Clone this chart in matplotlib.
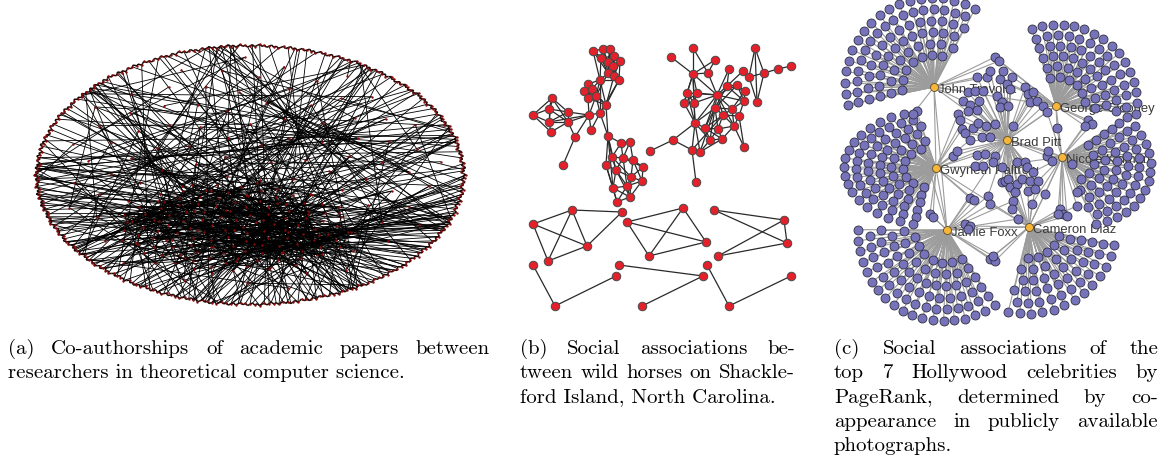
import numpy as np
import matplotlib.pyplot as plt
from matplotlib.collections import LineCollection

# ---------------- (a) co-authorship graph ----------------
ell_center = (250, 176)
ell_axes = (216, 131)
n_rim = 560                      # authors pushed to the outer ring
core_center = (235, 228)         # dense collaboration core, lower middle
core_axes = (118, 46)
n_core = 120
n_mid = 110

# ---------------- (b) horse associations ----------------
horse_xy = [
    # upper clique
    (593, 52), (603, 50), (610, 50), (601, 59), (614, 57), (620, 62),
    (608, 63), (613, 67), (608, 74), (614, 77), (619, 81), (600, 81),
    # middle group
    (588, 85), (584, 92), (592, 90), (588, 99), (596, 97), (606, 106),
    (600, 114), (589, 116), (591, 131), (575, 138), (563, 166),
    # diamond
    (552, 99), (549, 110), (533, 116), (549, 123), (568, 113), (568, 123), (551, 133),
    # lower group
    (608, 137), (621, 144), (630, 143), (612, 158), (623, 159), (633, 161),
    (606, 166), (616, 171), (643, 168), (631, 178), (642, 182), (627, 187),
    (613, 189), (630, 198), (617, 203),
    # right component
    (693, 49), (671, 58), (715, 61), (755, 49), (693, 75), (708, 74),
    (729, 70), (743, 72), (749, 78), (764, 74), (778, 70), (791, 67),
    (757, 103), (727, 87), (737, 86), (745, 92), (717, 96), (687, 94),
    (697, 94), (684, 104), (694, 104), (744, 102), (715, 109), (732, 110),
    (723, 116), (739, 117), (695, 124), (705, 129), (718, 130), (734, 127),
    (710, 141), (722, 140), (744, 148), (673, 141), (692, 151), (700, 153),
    (650, 152), (696, 183),
    # small components
    (533, 225), (572, 211), (622, 213), (587, 247), (548, 262),
    (627, 223), (683, 209), (706, 243), (649, 257),
    (714, 211), (784, 221), (787, 244), (718, 257),
    (533, 266), (555, 307), (616, 277),
    (619, 266), (703, 277), (642, 307),
    (707, 266), (729, 307), (791, 277),
]
horse_edges = [
    (0, 1), (0, 3), (0, 8), (0, 11), (1, 2), (1, 3), (1, 6), (1, 8), (2, 4), (2, 6),
    (2, 7), (2, 8), (3, 6), (3, 8), (3, 11), (4, 5), (4, 6), (4, 7), (4, 9), (5, 7),
    (5, 9), (5, 10), (6, 7), (6, 8), (6, 9), (7, 8), (7, 9), (7, 10), (8, 9), (8, 11),
    (9, 10), (10, 11), (3, 4), (1, 4), (0, 6),
    (11, 12), (11, 14), (11, 16), (10, 17), (9, 17), (8, 16), (10, 18), (11, 17), (11, 18),
    (12, 13), (12, 14), (12, 16), (13, 14), (13, 15), (14, 15), (14, 16), (15, 16),
    (15, 19), (16, 17), (16, 19), (17, 18), (14, 17), (15, 17), (18, 19), (16, 18),
    (13, 16), (12, 15), (19, 27), (19, 28), (19, 26), (19, 20), (19, 21), (21, 28),
    (21, 22), (17, 30), (18, 30), (20, 18),
    (23, 24), (23, 25), (23, 27), (23, 28), (23, 26), (24, 25), (24, 26), (24, 27),
    (24, 28), (25, 26), (25, 29), (26, 27), (26, 28), (26, 29), (27, 28), (28, 29),
    (30, 31), (30, 33), (30, 36), (30, 37), (31, 32), (31, 33), (31, 34), (32, 34),
    (32, 35), (33, 34), (33, 36), (33, 37), (33, 39), (34, 35), (34, 37), (34, 38),
    (35, 38), (35, 39), (36, 37), (36, 42), (36, 44), (37, 39), (37, 41), (37, 42),
    (37, 43), (38, 39), (38, 40), (39, 40), (39, 41), (39, 43), (40, 41), (40, 43),
    (41, 42), (41, 43), (41, 44), (42, 43), (42, 44), (43, 44), (34, 41), (35, 40),
    (30, 42),
    (46, 49), (45, 49), (45, 50), (47, 49), (47, 50), (49, 50), (49, 61), (49, 62),
    (49, 63), (49, 64), (49, 65), (49, 71), (50, 61), (61, 58), (61, 59), (61, 67),
    (61, 68), (61, 69), (61, 63), (61, 62), (61, 65), (61, 72), (61, 71), (51, 58),
    (51, 61), (52, 58), (52, 53), (53, 54), (48, 54), (48, 57), (48, 53), (54, 57),
    (54, 55), (55, 56), (53, 57), (58, 59), (58, 60), (59, 60), (58, 66), (59, 66),
    (60, 66), (58, 67), (59, 67), (60, 68), (66, 68), (66, 70), (62, 63), (62, 64),
    (63, 65), (64, 65), (62, 65), (63, 64), (67, 68), (67, 69), (67, 71), (67, 72),
    (67, 73), (67, 75), (68, 69), (68, 70), (68, 74), (69, 70), (69, 73), (69, 74),
    (69, 72), (70, 74), (70, 77), (71, 72), (71, 75), (71, 79), (71, 80), (72, 73),
    (72, 75), (72, 76), (73, 74), (73, 75), (73, 76), (74, 76), (74, 77), (75, 76),
    (75, 80), (76, 80), (71, 78), (78, 81), (78, 79), (79, 80), (79, 82), (64, 71),
    (62, 71), (65, 71), (61, 74), (61, 66), (67, 80), (69, 79),
    (83, 84), (84, 85), (83, 86), (83, 87), (84, 87), (84, 86), (87, 86), (86, 85),
    (88, 89), (88, 90), (88, 91), (89, 91), (89, 90), (91, 90),
    (92, 93), (92, 94), (93, 94), (93, 95), (95, 94),
    (96, 97), (97, 98), (99, 100), (100, 101), (102, 103), (103, 104),
]

# ---------------- (c) celebrity co-appearance ----------------
stars = ["John Travolta", "George Clooney", "Brad Pitt", "Nicole Kidman",
         "Gwyneth Paltrow", "Jamie Foxx", "Cameron Diaz"]
star_xy = [(934, 88), (1056, 107), (1007, 141), (1062, 158),
           (936, 169), (947, 231), (1029, 228)]
star_links = [(0, 2), (0, 4), (0, 1), (1, 2), (2, 3), (2, 4), (2, 6), (2, 5),
              (4, 5), (5, 6), (3, 6), (1, 3), (4, 6), (0, 5)]

# people photographed with a single star: a half-moon of them beside that star
fan_star = [0, 1, 3, 4, 5, 6]
fan_dir = [128, 52, -15, 180, 242, 303]      # degrees, pointing away from the star
fan_half = [68, 60, 58, 80, 65, 48]          # half opening angle
fan_reach = [90, 82, 90, 92, 92, 86]         # extent along fan_dir
fan_width = [88, 80, 68, 58, 88, 88]         # extent across it
fan_counts = [[7, 9, 12, 14, 17, 19],
              [6, 8, 10, 12, 13, 16],
              [5, 7, 9, 11, 13, 15],
              [7, 9, 12, 14, 17, 19],
              [7, 9, 12, 14, 16, 19],
              [5, 6, 8, 10, 11, 13]]

# people near the middle, with the stars they appear with
crowd_xy = [
    (995, 58), (999, 62), (977, 78), (987, 78), (990, 72), (1000, 80), (1003, 72),
    (1012, 78), (968, 93), (975, 92), (983, 92), (963, 102), (970, 106), (979, 102),
    (977, 111), (968, 112), (958, 115), (960, 121), (962, 130), (965, 134), (973, 129),
    (978, 124), (986, 127), (982, 138), (970, 141), (990, 138), (997, 97), (1002, 103),
    (1000, 108), (1008, 107), (1007, 85), (1010, 90), (1025, 88), (1028, 95), (1033, 93),
    (1030, 103), (1037, 102), (1043, 107), (1047, 113), (1013, 127), (995, 125),
    (1088, 121), (1092, 125), (1085, 127), (1057, 129),
    (953, 157), (957, 152), (977, 156), (985, 155), (995, 157), (975, 167), (983, 167),
    (993, 163), (1002, 168), (1002, 183), (1005, 182), (1008, 180), (1010, 188),
    (1017, 185), (1015, 193), (1022, 180), (1017, 163), (1025, 163), (1027, 168),
    (1033, 173), (1030, 182), (1038, 182), (1028, 192), (1035, 190), (1045, 195),
    (1032, 205), (1013, 202), (1012, 210), (1018, 220), (970, 199), (974, 201),
    (988, 197), (990, 205), (965, 225), (970, 227), (968, 230), (1060, 210),
    (1063, 215), (1067, 217), (1058, 215), (1047, 157), (1052, 162), (1048, 152),
    (1072, 165), (1077, 193), (1077, 207), (913, 115), (930, 215), (933, 218),
    (990, 260), (995, 262), (993, 257),
]
crowd_stars = [
    (0, 1), (0, 1), (0, 2), (0, 2), (2,), (2, 1), (2,), (2, 1), (0, 2), (2,), (2,),
    (2, 0), (2,), (2,), (2,), (2, 4), (2, 4), (2,), (2, 4), (2,), (2,), (2,), (2,),
    (2,), (2, 4), (2,), (2,), (2,), (2,), (2,), (2, 1), (2,), (2, 1), (2, 1), (2, 1),
    (2,), (2, 1), (2, 1), (2, 1, 3), (2,), (2,),
    (1, 3), (1, 3), (1, 3), (1, 3),
    (4, 2), (4, 2), (2, 4), (2,), (2,), (2, 4), (2,), (2,), (2,), (2, 6), (2, 6),
    (2,), (2, 6), (2,), (2, 6), (2,), (2,), (2, 3), (2,), (2, 3), (2,), (2, 3),
    (2, 6), (2, 6), (3, 6), (6, 3), (2, 6, 5), (6,), (6, 5), (4, 5), (4, 5),
    (2, 5), (5, 6), (5,), (5, 6), (5,), (3, 6), (3, 6), (3, 6), (3, 6), (3, 2),
    (3,), (3, 2), (3,), (3,), (3, 6), (0, 5), (4, 5), (4, 5),
    (5, 6), (5, 6), (5, 6),
]

captions = [
    (8, 490, ["(a) Co-authorships of academic papers between",
              "researchers in theoretical computer science."]),
    (520, 795, ["(b) Social associations be-",
                "tween wild horses on Shackle-",
                "ford Island, North Carolina."]),
    (834, 1158, ["(c) Social associations of the",
                 "top 7 Hollywood celebrities by",
                 "PageRank, determined by co-",
                 "appearance in publicly available",
                 "photographs."]),
]

W, H = 1161, 456
fig = plt.figure(figsize=(W / 100, H / 100), dpi=100)
ax = fig.add_axes([0, 0, 1, 1])
ax.set_xlim(0, W)
ax.set_ylim(H, 0)
ax.axis("off")


def px_size(d):
    # marker area in points^2 for a dot of d pixels
    return (0.72 * d) ** 2


# ---- (a) ----
phi = (np.sqrt(5) - 1) / 2
golden_angle = np.pi * (3 - np.sqrt(5))
cx, cy = ell_center
ea, eb = ell_axes

k = np.arange(n_rim)
t = 2 * np.pi * k / n_rim
shrink = 1 - 0.025 * ((k * phi) % 1)
rim = np.c_[cx + ea * shrink * np.cos(t), cy + eb * shrink * np.sin(t)]
half = n_rim // 2

k = np.arange(n_core)
r = np.sqrt((k + 0.5) / n_core)
core = np.c_[core_center[0] + core_axes[0] * r * np.cos(k * golden_angle),
             core_center[1] + core_axes[1] * r * np.sin(k * golden_angle)]

k = np.arange(n_mid)
r = 0.9 * np.sqrt((k + 0.5) / n_mid)
mid = np.c_[cx + ea * r * np.cos(k * golden_angle + 0.7),
            cy + eb * r * np.sin(k * golden_angle + 0.7)]

segs = []
for i in range(n_core):
    # lower rim, mostly left and right of the core
    segs.append([core[i], rim[(i * 193 + 20) % half]])
    if i % 2 == 0:
        segs.append([core[i], rim[(i * 251 + 17) % n_rim]])
    segs.append([core[i], core[(i * 7 + 3) % n_core]])
for i in range(n_mid):
    segs.append([mid[i], rim[(i * 311 + 40) % n_rim]])
    if i % 3 == 0:
        segs.append([mid[i], core[(i * 13) % n_core]])
    elif i % 3 == 1:
        segs.append([mid[i], mid[(i * 17 + 5) % n_mid]])
for i in range(0, n_rim, 8):
    j = (i + half + (i * 37) % 200 - 100) % n_rim
    segs.append([rim[i], rim[j]])
ax.add_collection(LineCollection(segs, colors="black", linewidths=0.6, zorder=1))
ring = [[rim[i], rim[(i + 1) % n_rim]] for i in range(n_rim)]
ax.add_collection(LineCollection(ring, colors="#1a0505", linewidths=1.1, zorder=1))
pts = np.vstack([rim[::2], core, mid])
ax.scatter(pts[:, 0], pts[:, 1], s=px_size(2.4), c="#8a0a0a", linewidths=0, zorder=2)

# ---- (b) ----
hx = np.array([p[0] for p in horse_xy], float)
hy = np.array([p[1] for p in horse_xy], float)
hsegs = [[(hx[i], hy[i]), (hx[j], hy[j])] for i, j in horse_edges]
ax.add_collection(LineCollection(hsegs, colors="#2a2a2a", linewidths=0.9, zorder=3))
ax.scatter(hx, hy, s=px_size(8.5), c="#e4202a", edgecolors="#4a4a4a",
           linewidths=0.7, zorder=4)

# ---- (c) ----
leaf_x, leaf_y, csegs = [], [], []
for s_idx, d, hw, reach, width, counts in zip(fan_star, fan_dir, fan_half,
                                              fan_reach, fan_width, fan_counts):
    sx, sy = star_xy[s_idx]
    d = np.radians(d)
    rows = len(counts)
    for row, n in enumerate(counts):
        u = 0.36 + 0.64 * row / (rows - 1)
        off = 0.25 if row % 2 else 0.75
        a = np.radians(-hw + (np.arange(n) + off) / (n - 0.5 + off) * 2 * hw)
        lx = u * reach * np.cos(a)
        ly = u * width * np.sin(a)
        xs = sx + lx * np.cos(d) - ly * np.sin(d)
        ys = sy - (lx * np.sin(d) + ly * np.cos(d))
        leaf_x.extend(xs)
        leaf_y.extend(ys)
        csegs.extend([[(sx, sy), (x, y)] for x, y in zip(xs, ys)])
for (x, y), linked in zip(crowd_xy, crowd_stars):
    leaf_x.append(x)
    leaf_y.append(y)
    for s_idx in linked:
        csegs.append([star_xy[s_idx], (x, y)])
for i, j in star_links:
    csegs.append([star_xy[i], star_xy[j]])
ax.add_collection(LineCollection(csegs, colors="#9c9c9c", linewidths=0.8, zorder=5))
for name, (sx, sy) in zip(stars, star_xy):
    ax.text(sx + 4, sy + 2, name, fontsize=9.4, family="Liberation Sans",
            color="#3a3a3a", va="center", ha="left", zorder=6)
ax.scatter(leaf_x, leaf_y, s=px_size(9), c="#7773bb", edgecolors="#2f2f3f",
           linewidths=0.6, zorder=7)
ax.scatter([p[0] for p in star_xy], [p[1] for p in star_xy], s=px_size(8),
           c="#f7b53a", edgecolors="#5a4a2a", linewidths=0.6, zorder=8)

# ---- captions, justified like the typeset text ----
renderer = fig.canvas.get_renderer()
cap_style = dict(fontsize=15, family="cmr10", va="baseline", ha="left")
for x0, x1, lines in captions:
    for n, line in enumerate(lines):
        y = 354 + n * 24.3
        words = line.split(" ")
        if n == len(lines) - 1:
            ax.text(x0, y, line, **cap_style)
            continue
        objs = [ax.text(0, y, w, **cap_style) for w in words]
        widths = [o.get_window_extent(renderer).width for o in objs]
        gap = (x1 - x0 - sum(widths)) / (len(words) - 1)
        x = x0
        for o, w in zip(objs, widths):
            o.set_x(x)
            x += w + gap

fig.savefig("out.png", dpi=100)
